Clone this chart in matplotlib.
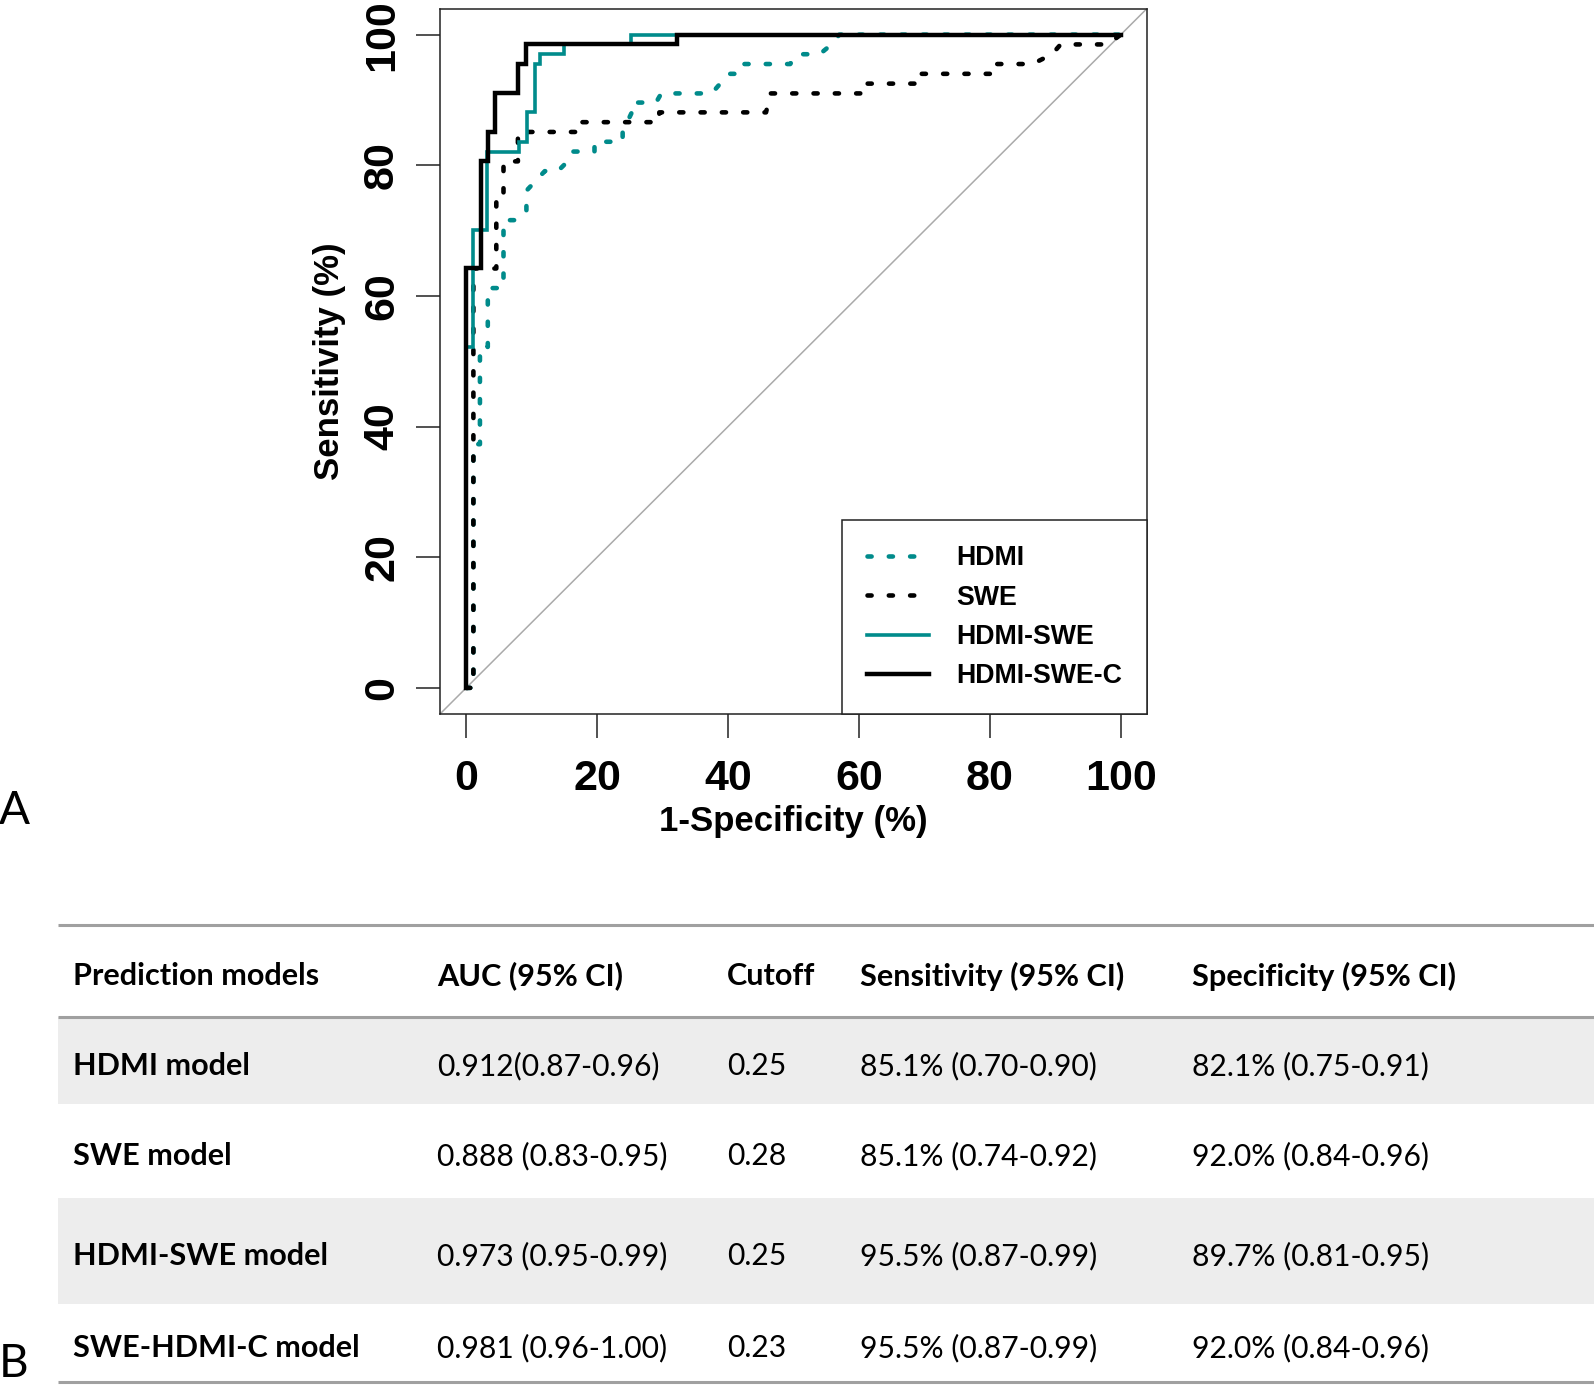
import matplotlib
matplotlib.use("Agg")
import matplotlib.pyplot as plt
from matplotlib.patches import Rectangle
from matplotlib.lines import Line2D
from matplotlib.font_manager import FontProperties

# ---------------- data ----------------
# ROC curves: x = 1-Specificity (%), y = Sensitivity (%)
hdmi_fpr = [0, 1.1, 1.1, 2.1, 2.1, 3.3, 3.3, 5.7, 5.7, 8.0, 9.2, 9.2, 12.0, 14.0, 15.5, 16.2,
            19.6, 19.6, 23.9, 23.9, 25.3, 25.3, 29.0, 29.8, 37.5, 38.8, 40.0, 42.0, 42.5,
            49.5, 50.5, 54.0, 55.8, 57.0, 100]
hdmi_tpr = [0, 0, 37.3, 37.3, 52.2, 52.2, 61.2, 61.2, 71.6, 71.6, 73.1, 76.1, 79.1, 79.1, 80.6, 82.1,
            82.1, 83.6, 83.6, 85.1, 88.1, 89.6, 89.6, 91.0, 91.0, 92.5, 94.0, 94.0, 95.5,
            95.5, 97.0, 97.0, 98.5, 100, 100]

swe_fpr = [0, 1.1, 1.1, 4.6, 4.6, 5.7, 5.7, 7.9, 7.9, 17.0, 17.0, 29.5, 29.5, 45.8, 46.5,
           60.5, 60.5, 69.0, 69.0, 80.5, 80.5, 86.5, 89.5, 90.8, 98.0, 100]
swe_tpr = [0, 0, 64.2, 64.2, 74.6, 74.6, 80.6, 80.6, 85.1, 85.1, 86.6, 86.6, 88.1, 88.1, 91.0,
           91.0, 92.5, 92.5, 94.0, 94.0, 95.5, 95.5, 97.0, 98.5, 98.5, 100]

hdmi_swe_fpr = [0, 0, 1.0, 1.0, 3.2, 3.2, 8.0, 8.0, 9.3, 9.3, 10.5, 10.5, 11.2, 11.2,
                15.0, 15.0, 25.2, 25.2, 100]
hdmi_swe_tpr = [0, 52.2, 52.2, 70.1, 70.1, 82.1, 82.1, 83.6, 83.6, 88.1, 88.1, 95.5, 95.5, 97.0,
                97.0, 98.5, 98.5, 100, 100]

hdmi_swe_c_fpr = [0, 0, 2.2, 2.2, 3.3, 3.3, 4.4, 4.4, 7.9, 7.9, 9.1, 9.1, 32.2, 32.2, 100]
hdmi_swe_c_tpr = [0, 64.2, 64.2, 80.6, 80.6, 85.1, 85.1, 91.0, 91.0, 95.5, 95.5, 98.5, 98.5, 100, 100]

series_labels = ["HDMI", "SWE", "HDMI-SWE", "HDMI-SWE-C"]
axis_ticks = [0, 20, 40, 60, 80, 100]
x_label = "1-Specificity (%)"
y_label = "Sensitivity (%)"

# Table (panel B)
table_columns = ["Prediction models", "AUC (95% CI)", "Cutoff", "Sensitivity (95% CI)", "Specificity (95% CI)"]
model_names = ["HDMI model", "SWE model", "HDMI-SWE model", "SWE-HDMI-C model"]
auc_ci = ["0.912(0.87-0.96)", "0.888 (0.83-0.95)", "0.973 (0.95-0.99)", "0.981 (0.96-1.00)"]
cutoffs = ["0.25", "0.28", "0.25", "0.23"]
sens_ci = ["85.1% (0.70-0.90)", "85.1% (0.74-0.92)", "95.5% (0.87-0.99)", "95.5% (0.87-0.99)"]
spec_ci = ["82.1% (0.75-0.91)", "92.0% (0.84-0.96)", "89.7% (0.81-0.95)", "92.0% (0.84-0.96)"]

# ---------------- styling ----------------
W, H = 1594, 1385
TEAL = "#008B8B"
PLOT_FONT = ["Liberation Sans", "DejaVu Sans"]
TABLE_FONT = ["Lato", "DejaVu Sans"]

fig = plt.figure(figsize=(W / 100, H / 100), dpi=100)
fig.patch.set_facecolor("white")

# ---------------- panel A: ROC ----------------
ax_l, ax_r, ax_t, ax_b = 440, 1147, 8.5, 714
ax = fig.add_axes([ax_l / W, 1 - ax_b / H, (ax_r - ax_l) / W, (ax_b - ax_t) / H])
ax.set_xlim(-4, 104)
ax.set_ylim(-4, 104)

ax.axline((0, 0), slope=1, color="#AAAAAA", lw=1.1, zorder=1)

dot_kw = dict(lw=3.3, dash_capstyle="round", linestyle=(0, (0.9, 3.75)))
ax.plot(hdmi_fpr, hdmi_tpr, color=TEAL, zorder=2, **dot_kw)
ax.plot(swe_fpr, swe_tpr, color="black", zorder=3, **dot_kw)
ax.plot(hdmi_swe_fpr, hdmi_swe_tpr, color=TEAL, lw=2.6, zorder=4, solid_joinstyle="miter")
ax.plot(hdmi_swe_c_fpr, hdmi_swe_c_tpr, color="black", lw=3.2, zorder=5, solid_joinstyle="miter")

tick_fp = FontProperties(family=PLOT_FONT, weight="bold", size=31)
lab_fp = FontProperties(family=PLOT_FONT, weight="bold", size=25)
leg_fp = FontProperties(family=PLOT_FONT, weight="bold", size=19.3)

ax.set_xticks(axis_ticks)
ax.set_yticks(axis_ticks)
ax.set_xticklabels([str(t) for t in axis_ticks], fontproperties=tick_fp)
ax.set_yticklabels([str(t) for t in axis_ticks], fontproperties=tick_fp, rotation=90, va="center")
ax.tick_params(axis="both", length=17.3, width=1.1, direction="out", color="#222222")
ax.tick_params(axis="x", pad=15)
ax.tick_params(axis="y", pad=10)
for s in ax.spines.values():
    s.set_linewidth(1.1)
    s.set_color("#222222")

ax.set_xlabel(x_label, fontproperties=lab_fp, va="center", ha="center")
ax.xaxis.set_label_coords(0.5, (ax_b - 821) / (ax_b - ax_t))
ax.set_ylabel(y_label, fontproperties=lab_fp, va="center", ha="center", rotation=90)
ax.yaxis.set_label_coords((329 - ax_l) / (ax_r - ax_l), 0.5)

handles = [
    Line2D([], [], color=TEAL, **dot_kw),
    Line2D([], [], color="black", **dot_kw),
    Line2D([], [], color=TEAL, lw=2.6),
    Line2D([], [], color="black", lw=3.2),
]
leg = ax.legend(handles, series_labels, loc="lower right", bbox_to_anchor=(1, 0),
                borderaxespad=0, prop=leg_fp, frameon=True, fancybox=False,
                framealpha=1, edgecolor="#222222", handlelength=2.3,
                handletextpad=1.04, labelspacing=0.5, borderpad=0.92)
leg.get_frame().set_linewidth(1.1)
leg.set_zorder(10)

# ---------------- panel B: table + panel letters ----------------
tax = fig.add_axes([0, 0, 1, 1], zorder=-1)
tax.set_xlim(0, W)
tax.set_ylim(H, 0)
tax.axis("off")
tax.patch.set_alpha(0)

letter_fp = FontProperties(family=TABLE_FONT, size=33)
tax.text(14, 811, "A", fontproperties=letter_fp, ha="center", va="center")
tax.text(14, 1364, "B", fontproperties=letter_fp, ha="center", va="center")

tbl_left, tbl_right = 58, W
row_bounds = [1017, 1104, 1198, 1304, 1383]
row_centers = [1066, 1156, 1256, 1348]
header_center = 976
col_x = [73, 437, 727, 860, 1192]
shade = "#EDEDED"
for i in range(len(model_names)):
    if i % 2 == 0:
        tax.add_patch(Rectangle((tbl_left, row_bounds[i]), tbl_right - tbl_left,
                                row_bounds[i + 1] - row_bounds[i], facecolor=shade,
                                edgecolor="none", zorder=0))
for yline in [925, 1017, 1382]:
    tax.plot([tbl_left, tbl_right], [yline, yline], color="#A0A0A0", lw=2.2, zorder=2,
             solid_capstyle="butt")

hdr_fp = FontProperties(family=TABLE_FONT, weight="bold", size=22.1)
cell_fp = FontProperties(family=TABLE_FONT, size=21.6)
for cx, name in zip(col_x, table_columns):
    tax.text(cx, header_center, name, fontproperties=hdr_fp, ha="left", va="center")
for i in range(len(model_names)):
    cells = [model_names[i], auc_ci[i], cutoffs[i], sens_ci[i], spec_ci[i]]
    for j, (cx, c) in enumerate(zip(col_x, cells)):
        tax.text(cx, row_centers[i], c, fontproperties=hdr_fp if j == 0 else cell_fp,
                 ha="left", va="center")

fig.savefig("out.png", dpi=100, facecolor="white")
